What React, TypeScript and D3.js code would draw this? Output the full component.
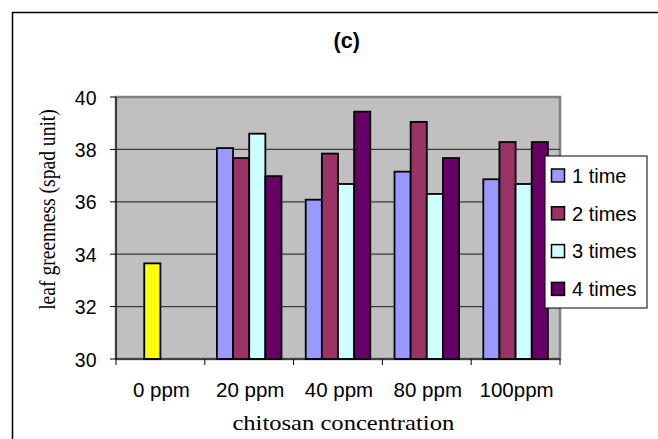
import React from "react";
import * as d3 from "d3";

const categories = ["0 ppm", "20 ppm", "40 ppm", "80 ppm", "100ppm"];
const seriesNames = ["1 time", "2 times", "3 times", "4 times"];
const seriesColors = ["#9999FF", "#993366", "#CCFFFF", "#660066"];
const controlColor = "#FFFF00";
// values[series][category]; null = no bar
const s1 = [null, 38.05, 36.08, 37.15, 36.86];
const s2 = [33.65, 37.67, 37.84, 39.05, 38.28];
const s3 = [null, 38.6, 36.68, 36.3, 36.68];
const s4 = [null, 36.98, 39.44, 37.67, 38.28];
const seriesValues = [s1, s2, s3, s4];
const yTicks = [30, 32, 34, 36, 38, 40];

export default function App() {
  const W = 658, H = 439;
  const left = 116, right = 560, top = 97, bottom = 359;
  const x0 = d3.scaleBand().domain(categories).range([left, right]).paddingInner(0).paddingOuter(0);
  const y = d3.scaleLinear().domain([30, 40]).range([bottom, top]);
  const groupW = x0.bandwidth();
  const barW = groupW / 5.5;
  const gap = (groupW - barW * 4) / 2;
  const sans = "'Liberation Sans', Arial, sans-serif";
  const serif = "'Liberation Serif', 'Times New Roman', serif";

  return (
    <svg width={W} height={H} style={{ position: "absolute", left: 0, top: 0 }}>
      <rect x={0} y={0} width={W} height={H} fill="#fff" />
      <rect x={12.5} y={12.5} width={W + 20} height={H + 20} fill="none" stroke="#000" strokeWidth={1.5} />
      <text x={346.7} y={48} textAnchor="middle" fontFamily={sans} fontWeight="bold" fontSize={21.5}>(c)</text>
      <rect x={left} y={top} width={right - left} height={bottom - top} fill="#C0C0C0" stroke="#808080" strokeWidth={2.5} />
      {yTicks.map((t) => (
        <g key={t}>
          {t !== 30 && t !== 40 && (
            <line x1={left} x2={right} y1={y(t)} y2={y(t)} stroke="#3a3a3a" strokeWidth={1.3} />
          )}
          <line x1={left - 6} x2={left} y1={y(t)} y2={y(t)} stroke="#000" strokeWidth={1} />
          <text x={96.5} y={y(t) + 7.5} textAnchor="end" fontFamily={sans} fontSize={19.5}>{t}</text>
        </g>
      ))}
      <line x1={left} x2={left} y1={top} y2={bottom} stroke="#000" strokeWidth={1} />
      {seriesValues.map((vals, si) =>
        vals.map((v, ci) =>
          v == null ? null : (
            <rect
              key={`${si}-${ci}`}
              x={(x0(categories[ci]) as number) + gap + si * barW}
              y={y(v)}
              width={barW}
              height={bottom - y(v)}
              fill={ci === 0 ? controlColor : seriesColors[si]}
              stroke="#000"
              strokeWidth={1.8}
            />
          )
        )
      )}
      <line x1={left} x2={right} y1={bottom} y2={bottom} stroke="#000" strokeWidth={1} />
      {categories.map((c, i) => (
        <line key={c} x1={left + i * groupW} x2={left + i * groupW} y1={bottom} y2={bottom + 6} stroke="#000" />
      ))}
      <line x1={right} x2={right} y1={bottom} y2={bottom + 6} stroke="#000" />
      {categories.map((c) => (
        <text key={c} x={(x0(c) as number) + groupW / 2 + 1} y={396.5} textAnchor="middle" fontFamily={sans} fontSize={20.5}>{c}</text>
      ))}
      <text transform="translate(343.3,430) scale(1.2,1)" textAnchor="middle" fontFamily={serif} fontSize={20.5}>chitosan concentration</text>
      <text transform="translate(55,209.5) scale(1.14,1) rotate(-90)" textAnchor="middle" fontFamily={serif} fontSize={19.6}>leaf greenness (spad unit)</text>
      <rect x={545} y={156} width={102} height={152} fill="#fff" stroke="#000" strokeWidth={1} />
      {seriesNames.map((n, i) => (
        <g key={n}>
          <rect x={551.5} y={169 + i * 37.8} width={13} height={13} fill={seriesColors[i]} stroke="#000" strokeWidth={1.5} />
          <text x={572} y={182.7 + i * 37.8} fontFamily={sans} fontSize={20}>{n}</text>
        </g>
      ))}
    </svg>
  );
}
